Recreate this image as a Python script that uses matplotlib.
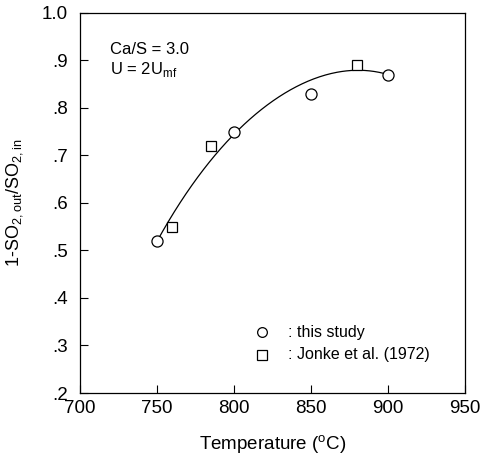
import matplotlib
matplotlib.use("Agg")
import matplotlib.pyplot as plt
import numpy as np

plt.rcParams['font.family'] = ['Liberation Sans', 'DejaVu Sans']
plt.rcParams['mathtext.fontset'] = 'custom'
plt.rcParams['mathtext.rm'] = 'Liberation Sans'

# this study
study_temp = [750, 800, 850, 900]
study_val = [0.52, 0.75, 0.83, 0.87]

# Jonke et al. (1972)
jonke_temp = [760, 785, 880]
jonke_val = [0.55, 0.72, 0.89]

# trend curve
curve_temp = [750, 775, 800, 825, 850, 875, 900]
curve_val = [0.52, 0.645, 0.75, 0.81, 0.86, 0.879, 0.87]

x_ticks = [700, 750, 800, 850, 900, 950]
y_ticks = [0.2, 0.3, 0.4, 0.5, 0.6, 0.7, 0.8, 0.9, 1.0]
y_labels = ['.2', '.3', '.4', '.5', '.6', '.7', '.8', '.9', '1.0']

coef = np.polyfit(curve_temp, curve_val, 4)
tt = np.linspace(750, 900, 200)

fig = plt.figure(figsize=(4.8, 4.61), dpi=100)
ax = fig.add_axes([0.1667, 0.1475, 0.8023, 0.8245])

ax.plot(tt, np.polyval(coef, tt), color='black', lw=0.9)
ax.plot(study_temp, study_val, 'o', ms=8, mfc='white', mec='black', mew=0.9, ls='none')
ax.plot(jonke_temp, jonke_val, 's', ms=7.5, mfc='white', mec='black', mew=0.9, ls='none')

ax.set_xlim(700, 950)
ax.set_ylim(0.2, 1.0)
ax.set_xticks(x_ticks)
ax.set_yticks(y_ticks)
ax.set_yticklabels(y_labels)
ax.tick_params(direction='in', length=6, labelsize=13.5, width=0.8)
ax.tick_params(axis='y', pad=9)
ax.tick_params(axis='x', pad=5)
for s in ax.spines.values():
    s.set_linewidth(0.9)

ax.set_xlabel('Temperature ($^{\\rm o}$C)', fontsize=13.5, labelpad=12)
ax.set_ylabel('1-SO$_{\\rm 2,out}$/SO$_{\\rm 2,in}$', fontsize=13, labelpad=12)

ax.text(0.078, 0.893, 'Ca/S = 3.0', transform=ax.transAxes, fontsize=12)
ax.text(0.078, 0.84, 'U = 2U$_{\\rm mf}$', transform=ax.transAxes, fontsize=12)

# legend drawn by hand
ax.plot(818, 0.328, 'o', ms=7, mfc='white', mec='black', mew=0.9)
ax.plot(818, 0.28, 's', ms=6.5, mfc='white', mec='black', mew=0.9)
ax.text(835, 0.328, ': this study', fontsize=11.5, va='center')
ax.text(835, 0.28, ': Jonke et al. (1972)', fontsize=11.5, va='center')

fig.savefig('out.png', dpi=100)
